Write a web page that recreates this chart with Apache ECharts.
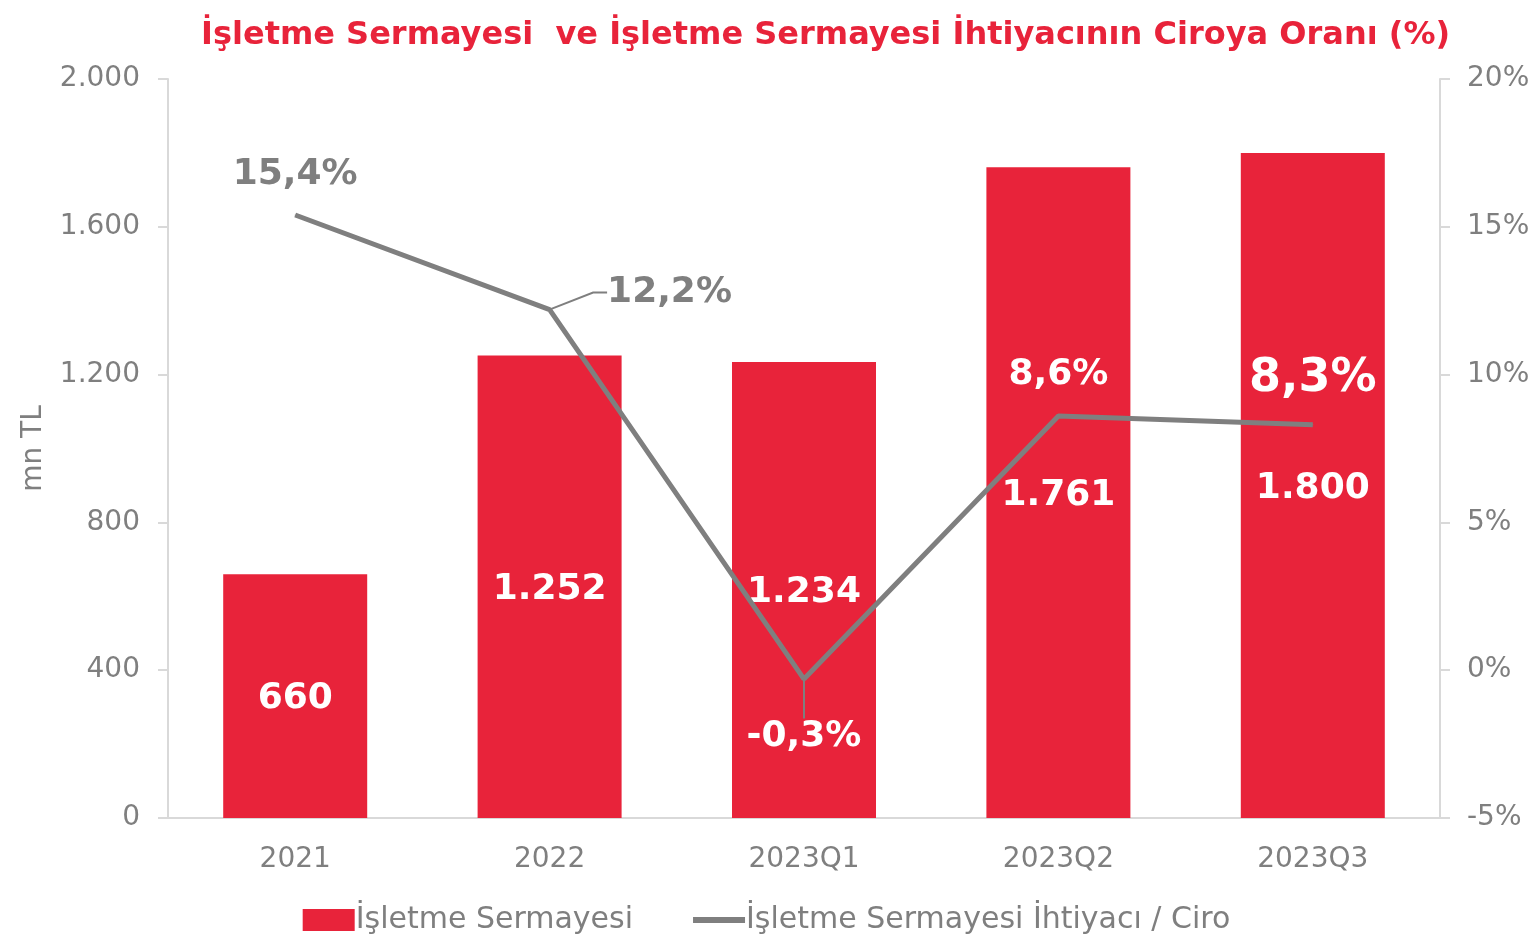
<!DOCTYPE html>
<html>
<head>
<meta charset="utf-8">
<script src="https://cdn.jsdelivr.net/npm/echarts@6/dist/echarts.min.js"></script>
<style>
  html, body { margin: 0; padding: 0; background: #fff; }
  #main { width: 1533px; height: 942px; }
</style>
</head>
<body>
<div id="main"></div>
<script>
// veriler
const categories = ['2021', '2022', '2023Q1', '2023Q2', '2023Q3'];
const sermaye = [660, 1252, 1234, 1761, 1800];
const oran = [15.4, 12.2, -0.3, 8.6, 8.3];

const RED = '#E8233A';
const GRAY = '#7F7F7F';
const FONT = '"DejaVu Sans", sans-serif';

const trNum = v => String(v).replace(/\B(?=(\d{3})+(?!\d))/g, '.');
const trPct = v => v.toFixed(1).replace('.', ',') + '%';

// etiket stilleri (her nokta için ayrı)
const lineLabels = [
  { position: 'top', distance: 22, color: GRAY, fontSize: 36 },
  { position: 'right', distance: 5, color: GRAY, fontSize: 36 },
  { position: 'bottom', distance: 5, color: '#fff', fontSize: 36 },
  { position: 'top', distance: 23, color: '#fff', fontSize: 36 },
  { position: 'top', distance: 22, color: '#fff', fontSize: 46 }
];
const guideShown = [false, true, true, false, false];

const myChart = echarts.init(document.getElementById('main'));
const option = {
  animation: false,
  title: {
    text: 'İşletme Sermayesi  ve İşletme Sermayesi İhtiyacının Ciroya Oranı (%)',
    left: 196,
    top: 15,
    textStyle: { color: RED, fontSize: 32, fontWeight: 'bold', fontFamily: FONT }
  },
  legend: {
    bottom: 2,
    left: 'center',
    itemGap: 60,
    itemWidth: 52,
    itemHeight: 22,
    textStyle: { color: GRAY, fontSize: 30, fontFamily: FONT, padding: [0, 0, 0, -4] },
    data: [
      { name: 'İşletme Sermayesi', icon: 'rect' },
      { name: 'İşletme Sermayesi İhtiyacı / Ciro', icon: 'path://M0,0H52V6H0Z' }
    ]
  },
  grid: { left: 168, right: 93, top: 79, bottom: 124 },
  xAxis: {
    type: 'category',
    data: categories,
    axisLine: { lineStyle: { color: '#D9D9D9', width: 2 } },
    axisTick: { show: false },
    axisLabel: { color: GRAY, fontSize: 28, fontFamily: FONT, margin: 28 }
  },
  yAxis: [
    {
      type: 'value',
      min: 0, max: 2000, interval: 400,
      name: 'mn TL',
      nameLocation: 'middle',
      nameGap: 120,
      nameTextStyle: { color: GRAY, fontSize: 28, fontFamily: FONT },
      axisLine: { show: true, lineStyle: { color: '#D9D9D9', width: 2 } },
      axisTick: { show: true, length: 10, lineStyle: { color: '#D9D9D9', width: 2 } },
      splitLine: { show: false },
      axisLabel: { color: GRAY, fontSize: 28, fontFamily: FONT, margin: 28, formatter: v => trNum(v) }
    },
    {
      type: 'value',
      min: -5, max: 20, interval: 5,
      axisLine: { show: true, lineStyle: { color: '#D9D9D9', width: 2 } },
      axisTick: { show: true, length: 10, lineStyle: { color: '#D9D9D9', width: 2 } },
      splitLine: { show: false },
      axisLabel: { color: GRAY, fontSize: 28, fontFamily: FONT, margin: 27, formatter: '{value}%' }
    }
  ],
  series: [
    {
      name: 'İşletme Sermayesi',
      type: 'bar',
      barWidth: 144,
      data: sermaye,
      itemStyle: { color: RED },
      label: {
        show: true,
        position: 'inside',
        offset: [0, 3],
        color: '#fff',
        fontSize: 36,
        fontWeight: 'bold',
        fontFamily: FONT,
        formatter: p => trNum(p.value)
      }
    },
    {
      name: 'İşletme Sermayesi İhtiyacı / Ciro',
      type: 'line',
      yAxisIndex: 1,
      data: oran.map((v, i) => ({
        value: v,
        label: Object.assign({ show: true, fontWeight: 'bold', fontFamily: FONT, formatter: p => trPct(p.value) }, lineLabels[i]),
        labelLine: { show: guideShown[i] }
      })),
      symbol: 'circle',
      symbolSize: 1,
      showSymbol: true,
      lineStyle: { color: GRAY, width: 5 },
      itemStyle: { color: GRAY },
      labelLine: { show: false, length2: 14, lineStyle: { color: GRAY, width: 2 } },
      labelLayout: function (params) {
        if (params.dataIndex === 1) return { dx: 52, dy: -17 };
        if (params.dataIndex === 2) return { dy: 34 };
        return {};
      },
      z: 5
    }
  ]
};
myChart.setOption(option);
</script>
</body>
</html>
